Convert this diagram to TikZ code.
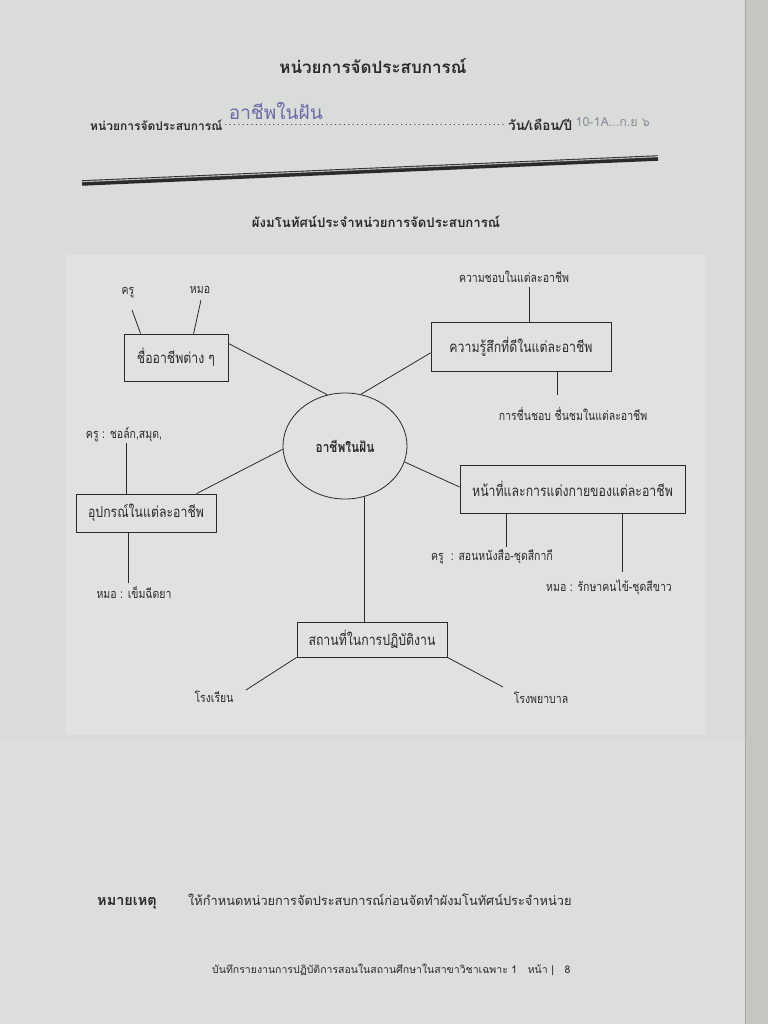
\documentclass[tikz,border=0pt]{standalone}
\usepackage{fontspec}
\newfontfamily\thai[Script=Thai]{Loma}
\newfontfamily\thaic[Script=Thai,FakeStretch=0.82]{Loma}
\usetikzlibrary{shapes.geometric,calc}
\definecolor{bgpaper}{HTML}{D9DCD9}
\definecolor{panel}{HTML}{E0E2DF}
\definecolor{edge}{HTML}{C4C6C2}
\definecolor{ink}{HTML}{2A2A2A}
\definecolor{pen}{HTML}{6B6BA8}
\definecolor{pencil}{HTML}{8C8C9C}
\begin{document}
\begin{tikzpicture}[x=1pt,y=-1pt,
  every node/.style={inner sep=0pt,text=ink},
  boxnode/.style={draw=ink,line width=0.8pt,rectangle,font=\thaic\fontsize{15}{17}\selectfont},
  lbl/.style={font=\thaic\fontsize{12.8}{14}\selectfont},
  conn/.style={draw=ink,line width=0.8pt},
]
\useasboundingbox (0,0) rectangle (768,1024);
% paper
\fill[bgpaper] (0,0) rectangle (768,1024);
\fill[panel] (65,255) rectangle (705,735);
\fill[edge] (745,0) rectangle (768,1024);
\draw[gray!70,line width=0.6pt] (745,0) -- (745,1024);
\fill[black!12,opacity=0.5] (0,740) rectangle (745,1024);

% header
\node[font=\thai\bfseries\fontsize{17}{19}\selectfont] (title) at (373,66) {หน่วยการจัดประสบการณ์};
\begin{scope}[rotate around={-1:(380,128)}]
\node[font=\thai\bfseries\fontsize{12}{14}\selectfont,anchor=west] (unitlbl) at (90,130) {หน่วยการจัดประสบการณ์};
\node[anchor=west,font=\thai\fontsize{10}{12}\selectfont] (dots1) at (unitlbl.east) {\makebox[283pt]{\dotfill}};
\node[font=\thai\bfseries\fontsize{13.5}{15}\selectfont,anchor=west] (datelbl) at ([xshift=2pt]dots1.east) {วัน/เดือน/ปี};
\node[font=\thai\fontsize{19}{21}\selectfont,text=pen,anchor=south west] (hand) at ([xshift=6pt,yshift=5pt]dots1.west) {อาชีพในฝัน};
\node[font=\thai\fontsize{12.5}{14}\selectfont,text=pencil,anchor=west] (date) at ([xshift=3pt,yshift=3pt]datelbl.east) {10-1A...ก.ย ๖};
\end{scope}
\coordinate (ruleL) at (82,183);
\coordinate (ruleR) at (658,158);
\draw[ink,line width=5.5pt] (ruleL) -- (ruleR);
\draw[gray!55,line width=1.1pt] ([yshift=1.3pt]ruleL) -- ([yshift=1.3pt]ruleR);

\node[font=\thai\bfseries\fontsize{13.2}{15}\selectfont] (sub) at (376,222) {ผังมโนทัศน์ประจำหน่วยการจัดประสบการณ์};

% centre
\node[ellipse,draw=ink,line width=0.8pt,minimum width=124pt,minimum height=106pt,font=\thaic\bfseries\fontsize{14.5}{16}\selectfont] (c) at (345,446) {อาชีพในฝัน};

% boxes
\node[boxnode,minimum width=104pt,minimum height=47pt] (b1) at (176,357.5) {ชื่ออาชีพต่าง ๆ};
\node[boxnode,minimum width=180pt,minimum height=49pt] (b2) at (521,346.5) {ความรู้สึกที่ดีในแต่ละอาชีพ};
\node[boxnode,minimum width=140pt,minimum height=38pt] (b3) at (146,513) {อุปกรณ์ในแต่ละอาชีพ};
\node[boxnode,minimum width=225pt,minimum height=48pt] (b4) at (572.5,489) {หน้าที่และการแต่งกายของแต่ละอาชีพ};
\node[boxnode,minimum width=150pt,minimum height=35pt] (b5) at (372,639.5) {สถานที่ในการปฏิบัติงาน};

% centre connectors
\draw[conn] (c.109) -- (b1.15.6);
\draw[conn] (c.73) -- (b2.184.8);
\draw[conn] (c.183) -- (b3.21);
\draw[conn] (c.345.5) -- (b4.179);
\draw[conn] (c.291) -- (c.291 |- b5.north);

% leaf labels
\node[lbl] (l1a) at (128,293) {ครู};
\node[lbl] (l1b) at (200,290) {หมอ};
\node[lbl] (l2a) at (514,277) {ความชอบในแต่ละอาชีพ};
\node[lbl] (l2b) at (573,414) {การชื่นชอบ ชื่นชมในแต่ละอาชีพ};
\node[lbl] (l3a) at (124,435) {ครู : ชอล์ก,สมุด,};
\node[lbl] (l3b) at (134,593) {หมอ : เข็มฉีดยา};
\node[lbl] (l4a) at (492,557) {ครู\ \ : สอนหนังสือ-ชุดสีกากี};
\node[lbl] (l4b) at (609,587) {หมอ : รักษาคนไข้-ชุดสีขาว};
\node[lbl] (l5a) at (214,697) {โรงเรียน};
\node[lbl] (l5b) at (541,698) {โรงพยาบาล};

% leaf connectors
\coordinate (e1a) at (132,310);
\coordinate (e1b) at (201,300);
\draw[conn] (e1a) -- ([xshift=17pt]b1.north west);
\draw[conn] (e1b) -- ([xshift=70pt]b1.north west);
\draw[conn] ([xshift=99pt]b2.north west) -- ++(0,-35);
\draw[conn] ([xshift=127pt]b2.south west) -- ++(0,24);
\draw[conn] ([xshift=51pt]b3.north west) -- ++(0,-51);
\draw[conn] ([xshift=53pt]b3.south west) -- ++(0,51);
\draw[conn] ([xshift=47pt]b4.south west) -- ++(0,34);
\draw[conn] ([xshift=163pt]b4.south west) -- ++(0,59);
\coordinate (e5a) at (246,690);
\coordinate (e5b) at (503,687);
\draw[conn] (b5.south west) -- (e5a);
\draw[conn] (b5.south east) -- (e5b);

% footer
\node[font=\thai\bfseries\fontsize{14.5}{16}\selectfont,anchor=west] (note) at (97,903) {หมายเหตุ};
\node[font=\thai\fontsize{12.8}{14}\selectfont,anchor=west] (notetext) at (188,900) {ให้กำหนดหน่วยการจัดประสบการณ์ก่อนจัดทำผังมโนทัศน์ประจำหน่วย};
\node[font=\thai\fontsize{10.5}{12}\selectfont,anchor=west] (foot) at (212,970) {บันทึกรายงานการปฏิบัติการสอนในสถานศึกษาในสาขาวิชาเฉพาะ 1\quad หน้า |\quad 8};
\end{tikzpicture}
\end{document}
